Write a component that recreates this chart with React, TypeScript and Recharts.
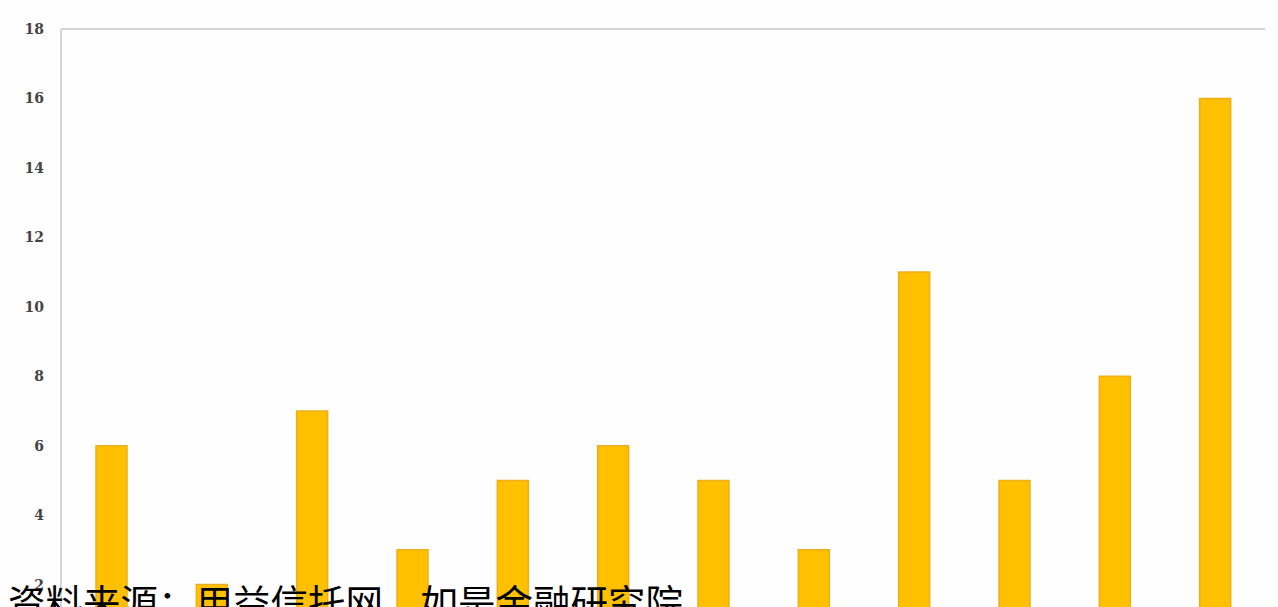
import React from "react";
import { BarChart, Bar, XAxis, YAxis, ReferenceLine } from "recharts";

const categories = ["1", "2", "3", "4", "5", "6", "7", "8", "9", "10", "11", "12"];
const values = [6, 2, 7, 3, 5, 6, 5, 3, 11, 5, 8, 16];
const yTicks = [0, 2, 4, 6, 8, 10, 12, 14, 16, 18];
const sourceText = "资料来源：用益信托网，如是金融研究院";

const data = categories.map((c, i) => ({ name: c, value: values[i] }));

export default function App() {
  return (
    <div
      style={{
        position: "absolute",
        left: 0,
        top: 0,
        width: 1278,
        height: 607,
        overflow: "hidden",
        background: "#fefefe",
      }}
    >
      <BarChart
        width={1278}
        height={660}
        data={data}
        margin={{ top: 29, right: 13, bottom: 6, left: 0 }}
        barSize={31}
      >
        <XAxis dataKey="name" hide />
        <YAxis
          width={61}
          domain={[0, 18]}
          ticks={yTicks}
          interval={0}
          tickLine={false}
          tickMargin={11}
          axisLine={{ stroke: "#d4d4d4", strokeWidth: 2 }}
          tick={{ fill: "#444", fontSize: 14, fontFamily: "DejaVu Serif", fontWeight: "bold" }}
        />
        <YAxis
          yAxisId="right"
          orientation="right"
          width={0}
          domain={[0, 18]}
          tick={false}
          tickLine={false}
          axisLine={{ stroke: "#d4d4d4", strokeWidth: 2 }}
        />
        <ReferenceLine y={18} stroke="#d4d4d4" strokeWidth={2} />
        <Bar
          dataKey="value"
          fill="#FFC000"
          stroke="#EDAE1C"
          strokeWidth={1.5}
          isAnimationActive={false}
        />
      </BarChart>
      <div
        style={{
          position: "absolute",
          left: 8,
          top: 582,
          fontSize: 37.5,
          lineHeight: 1,
          fontFamily: "'Noto Sans CJK SC', sans-serif",
          color: "#000",
          whiteSpace: "nowrap",
        }}
      >
        {sourceText}
      </div>
    </div>
  );
}
